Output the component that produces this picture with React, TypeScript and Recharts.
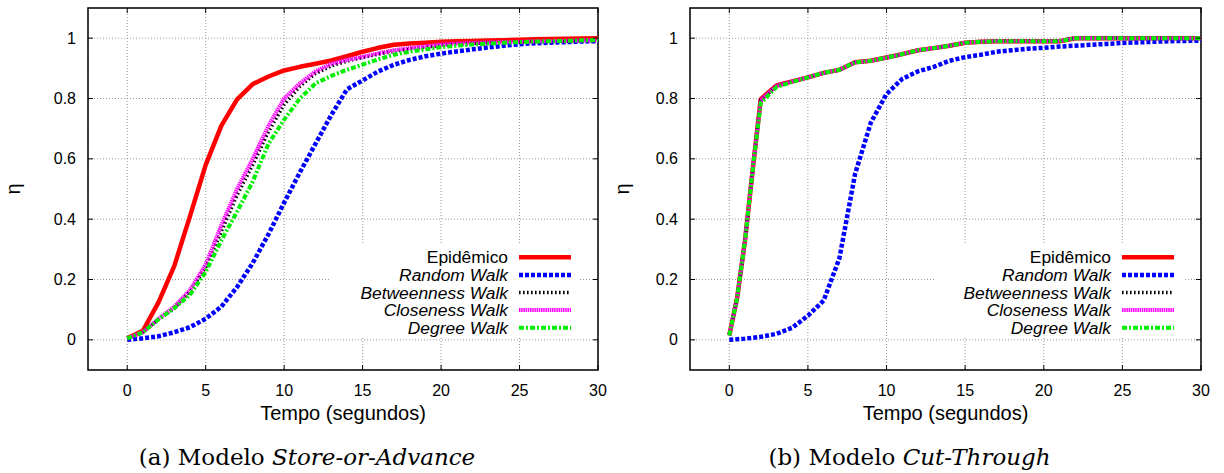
import { LineChart, Line, XAxis, YAxis, CartesianGrid, Legend, ReferenceArea, Label } from "recharts";

// Tempo (s) e fração de nós alcançados (η)
const TIME_A = [0, 1, 2, 3, 4, 5, 6, 7, 8, 9, 10, 11, 12, 13, 14, 15, 16, 17, 18, 19, 20, 21, 22, 23, 24, 25, 26, 27, 28, 29, 30];

const EPIDEMICO_A = [0.005, 0.03, 0.125, 0.245, 0.41, 0.58, 0.71, 0.797, 0.848, 0.873, 0.893, 0.905, 0.915, 0.926, 0.94, 0.955, 0.968, 0.978, 0.982, 0.985, 0.988, 0.99, 0.991, 0.992, 0.993, 0.995, 0.996, 0.997, 0.998, 0.999, 1.0];
const RANDOM_A = [0, 0.005, 0.012, 0.025, 0.042, 0.07, 0.11, 0.175, 0.255, 0.35, 0.455, 0.555, 0.65, 0.745, 0.83, 0.86, 0.89, 0.912, 0.928, 0.94, 0.949, 0.956, 0.963, 0.969, 0.975, 0.98, 0.983, 0.985, 0.987, 0.989, 0.99];
const BETWEENNESS_A = [0.005, 0.025, 0.068, 0.105, 0.16, 0.24, 0.36, 0.48, 0.58, 0.69, 0.78, 0.84, 0.883, 0.908, 0.924, 0.936, 0.947, 0.957, 0.964, 0.97, 0.976, 0.98, 0.982, 0.984, 0.986, 0.987, 0.988, 0.989, 0.99, 0.991, 0.992];
const CLOSENESS_A = [0.005, 0.025, 0.07, 0.11, 0.165, 0.25, 0.38, 0.5, 0.6, 0.71, 0.8, 0.85, 0.89, 0.915, 0.928, 0.938, 0.95, 0.96, 0.967, 0.973, 0.979, 0.982, 0.984, 0.986, 0.987, 0.988, 0.989, 0.99, 0.991, 0.992, 0.993];
const DEGREE_A = [0.005, 0.025, 0.068, 0.105, 0.15, 0.225, 0.33, 0.425, 0.525, 0.65, 0.73, 0.8, 0.85, 0.875, 0.895, 0.912, 0.93, 0.945, 0.955, 0.963, 0.97, 0.975, 0.979, 0.982, 0.985, 0.987, 0.989, 0.99, 0.991, 0.993, 0.994];

const TIME_B = [0, 0.5, 1, 1.5, 2, 3, 4, 5, 6, 7, 8, 9, 10, 11, 12, 13, 14, 15, 16, 17, 18, 19, 20, 21, 22, 23, 24, 25, 26, 27, 28, 29, 30];

const EPIDEMICO_B = [0.015, 0.14, 0.33, 0.57, 0.798, 0.843, 0.857, 0.87, 0.885, 0.895, 0.92, 0.925, 0.936, 0.947, 0.96, 0.967, 0.975, 0.985, 0.988, 0.99, 0.99, 0.99, 0.99, 0.99, 1.0, 1.0, 1.0, 1.0, 1.0, 1.0, 1.0, 1.0, 1.0];
const RANDOM_B = [0, 0.002, 0.004, 0.007, 0.01, 0.02, 0.04, 0.08, 0.13, 0.27, 0.55, 0.72, 0.815, 0.865, 0.89, 0.905, 0.925, 0.937, 0.945, 0.955, 0.96, 0.965, 0.968, 0.972, 0.975, 0.978, 0.981, 0.984, 0.986, 0.988, 0.99, 0.991, 0.992];
const BETWEENNESS_B = [0.015, 0.14, 0.33, 0.57, 0.795, 0.842, 0.856, 0.87, 0.885, 0.895, 0.92, 0.925, 0.936, 0.947, 0.96, 0.967, 0.975, 0.985, 0.988, 0.99, 0.99, 0.99, 0.99, 0.99, 1.0, 1.0, 1.0, 1.0, 1.0, 1.0, 1.0, 1.0, 1.0];
const CLOSENESS_B = [0.015, 0.14, 0.33, 0.57, 0.795, 0.842, 0.856, 0.87, 0.885, 0.895, 0.92, 0.925, 0.936, 0.947, 0.96, 0.967, 0.975, 0.985, 0.988, 0.99, 0.99, 0.99, 0.99, 0.99, 1.0, 1.0, 1.0, 1.0, 1.0, 1.0, 1.0, 1.0, 1.0];
const DEGREE_B = [0.015, 0.14, 0.33, 0.57, 0.785, 0.838, 0.855, 0.87, 0.885, 0.895, 0.92, 0.925, 0.936, 0.947, 0.96, 0.967, 0.975, 0.985, 0.988, 0.99, 0.99, 0.99, 0.99, 0.99, 1.0, 1.0, 1.0, 1.0, 1.0, 1.0, 1.0, 1.0, 1.0];

const X_TICKS = [0, 5, 10, 15, 20, 25, 30];
const Y_TICKS = [0, 0.2, 0.4, 0.6, 0.8, 1];
const X_DOMAIN = [-2.5, 30];
const Y_DOMAIN = [-0.1, 1.1];

const SERIES = [
  { key: "epidemico", name: "Epidêmico", color: "#ff0000", width: 4.5, dash: undefined, italic: false },
  { key: "random", name: "Random Walk", color: "#0000ff", width: 4.5, dash: "4 2", italic: true },
  { key: "betweenness", name: "Betweenness Walk", color: "#000000", width: 3.5, dash: "1.6 2.4", italic: true },
  { key: "closeness", name: "Closeness Walk", color: "#ff00ff", width: 4, dash: "1.5 0.7", italic: true },
  { key: "degree", name: "Degree Walk", color: "#00ee00", width: 4, dash: "5 2 2 2", italic: true },
];

const buildRows = (time: number[], cols: Record<string, number[]>) =>
  time.map((t, i) => {
    const row: Record<string, number> = { t };
    Object.keys(cols).forEach((k) => (row[k] = cols[k][i]));
    return row;
  });

const ROWS_A = buildRows(TIME_A, {
  epidemico: EPIDEMICO_A,
  random: RANDOM_A,
  betweenness: BETWEENNESS_A,
  closeness: CLOSENESS_A,
  degree: DEGREE_A,
});

const ROWS_B = buildRows(TIME_B, {
  epidemico: EPIDEMICO_B,
  random: RANDOM_B,
  betweenness: BETWEENNESS_B,
  closeness: CLOSENESS_B,
  degree: DEGREE_B,
});

const CHART_W = 612;
const CHART_H = 430;
const PLOT_TOP = 8;
const PLOT_BOTTOM = 370;
const KEY_TOP = 243;
const FONT = '"Liberation Sans", Arial, Helvetica, sans-serif';
const SERIF = '"DejaVu Serif", "Liberation Serif", serif';

// key box is white, it hides the grid behind it like gnuplot does
const KeyBox = () => (
  <svg width={249} height={94} style={{ display: "block", overflow: "visible" }}>
    {SERIES.map((s, i) => {
      const y = 14.3 + i * 17.6;
      return (
        <g key={s.key}>
          <text
            x={177}
            y={y}
            textAnchor="end"
            dominantBaseline="central"
            fontFamily={FONT}
            fontSize={17.4}
            fontStyle={s.italic ? "italic" : "normal"}
            fill="#000"
          >
            {s.name}
          </text>
          <line x1={188} x2={240} y1={y} y2={y} stroke={s.color} strokeWidth={s.width} strokeDasharray={s.dash} />
        </g>
      );
    })}
  </svg>
);

type PanelProps = {
  rows: Record<string, number>[];
  left: number;
  plotLeft: number;
  plotRight: number;
  etaX: number;
  tag: string;
  model: string;
};

const Panel = ({ rows, left, plotLeft, plotRight, etaX, tag, model }: PanelProps) => {
  const captionCenter = (plotLeft + plotRight) / 2 - 36;

  const XTick = (p: any) => (
    <g>
      <line x1={p.x} x2={p.x} y1={PLOT_BOTTOM} y2={PLOT_BOTTOM - 5} stroke="#000" strokeWidth={1} />
      <line x1={p.x} x2={p.x} y1={PLOT_TOP} y2={PLOT_TOP + 5} stroke="#000" strokeWidth={1} />
      <text x={p.x} y={390} textAnchor="middle" dominantBaseline="central" fontFamily={FONT} fontSize={16} fill="#000">
        {p.payload.value}
      </text>
    </g>
  );

  const YTick = (p: any) => (
    <g>
      <line x1={plotLeft} x2={plotLeft + 5} y1={p.y} y2={p.y} stroke="#000" strokeWidth={1} />
      <line x1={plotRight} x2={plotRight - 5} y1={p.y} y2={p.y} stroke="#000" strokeWidth={1} />
      <text x={plotLeft - 12} y={p.y} textAnchor="end" dominantBaseline="central" fontFamily={FONT} fontSize={16} fill="#000">
        {p.payload.value}
      </text>
    </g>
  );

  return (
    <div style={{ position: "absolute", left, top: 0, width: CHART_W, height: 473 }}>
      <LineChart
        width={CHART_W}
        height={CHART_H}
        data={rows}
        margin={{ top: PLOT_TOP, right: CHART_W - plotRight, bottom: 0, left: 0 }}
      >
        <CartesianGrid stroke="#999" strokeDasharray="1 2" />
        <XAxis
          dataKey="t"
          type="number"
          domain={X_DOMAIN}
          ticks={X_TICKS}
          allowDataOverflow
          interval={0}
          axisLine={false}
          tickLine={false}
          height={CHART_H - PLOT_BOTTOM}
          tick={(p: any) => <XTick {...p} />}
        >
          <Label value="Tempo (segundos)" position="insideBottom" offset={10} fontSize={20} fontFamily={FONT} fill="#000" />
        </XAxis>
        <YAxis
          type="number"
          domain={Y_DOMAIN}
          ticks={Y_TICKS}
          allowDataOverflow
          interval={0}
          axisLine={false}
          tickLine={false}
          width={plotLeft}
          tick={(p: any) => <YTick {...p} />}
        >
          <Label
            content={() => (
              <text
                x={etaX}
                y={(PLOT_TOP + PLOT_BOTTOM) / 2}
                transform={`rotate(-90, ${etaX}, ${(PLOT_TOP + PLOT_BOTTOM) / 2})`}
                textAnchor="middle"
                dominantBaseline="central"
                fontFamily={FONT}
                fontSize={20}
                fill="#000"
              >
                η
              </text>
            )}
          />
        </YAxis>
        {SERIES.map((s) => (
          <Line
            key={s.key}
            type="linear"
            dataKey={s.key}
            name={s.name}
            stroke={s.color}
            strokeWidth={s.width}
            strokeDasharray={s.dash}
            strokeLinecap="butt"
            strokeLinejoin="round"
            dot={false}
            activeDot={false}
            isAnimationActive={false}
          />
        ))}
        <ReferenceArea
          x1={X_DOMAIN[0]}
          x2={X_DOMAIN[1]}
          y1={Y_DOMAIN[0]}
          y2={Y_DOMAIN[1]}
          fill="none"
          fillOpacity={0}
          stroke="#000"
          strokeWidth={1.5}
          ifOverflow="visible"
        />
        <Legend
          layout="vertical"
          align="center"
          verticalAlign="middle"
          wrapperStyle={{ left: plotRight - 267, top: KEY_TOP, width: 249, height: 94, background: "#fff" }}
          content={() => <KeyBox />}
        />
      </LineChart>
      <div
        style={{
          position: "absolute",
          left: captionCenter - 250,
          width: 500,
          top: 443,
          textAlign: "center",
          fontFamily: SERIF,
          fontSize: 23,
          lineHeight: "28px",
          color: "#000",
          whiteSpace: "nowrap",
        }}
      >
        ({tag}) Modelo <i>{model}</i>
      </div>
    </div>
  );
};

export default function App() {
  return (
    <div style={{ position: "absolute", left: 0, top: 0, width: 1224, height: 473, background: "#fff", overflow: "hidden" }}>
      <Panel rows={ROWS_A} left={0} plotLeft={88} plotRight={598} etaX={13} tag="a" model="Store-or-Advance" />
      <Panel rows={ROWS_B} left={612} plotLeft={78} plotRight={589} etaX={10} tag="b" model="Cut-Through" />
    </div>
  );
}
